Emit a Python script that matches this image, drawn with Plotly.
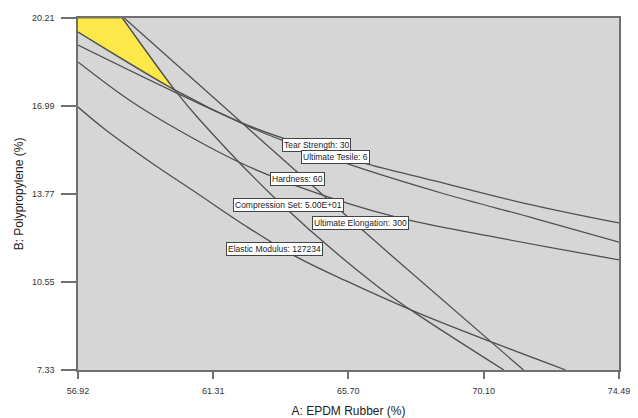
import plotly.graph_objects as go

# Axis ticks
x_ticks = [56.92, 61.31, 65.70, 70.10, 74.49]
y_ticks = [7.33, 10.55, 13.77, 16.99, 20.21]
x_range = [56.92, 74.49]
y_range = [7.33, 20.21]

# Contour lines (A: EPDM Rubber %, B: Polypropylene %)
comp_x = [58.36, 60.06, 60.82, 63.38, 66.59, 67.87, 70.75]
comp_y = [20.21, 17.58, 16.55, 13.55, 10.44, 9.42, 7.33]

elong_x = [58.42, 60.82, 64.03, 67.23, 71.39]
elong_y = [20.21, 17.80, 14.58, 11.39, 7.33]

elastic_x = [56.92, 57.78, 59.22, 60.82, 62.42, 64.03, 65.63, 67.96, 70.43, 72.76]
elastic_y = [16.95, 16.15, 14.98, 13.77, 12.56, 11.46, 10.59, 9.42, 8.32, 7.33]

hard_x = [56.92, 58.58, 60.18, 62.14, 64.03, 67.23, 70.43, 74.49]
hard_y = [18.60, 17.21, 16.11, 14.94, 14.06, 12.93, 12.20, 11.36]

tensile_x = [56.92, 60.06, 62.42, 64.03, 66.27, 68.83, 71.71, 74.49]
tensile_y = [19.70, 17.58, 16.26, 15.53, 14.65, 13.77, 12.89, 12.01]

tear_x = [56.92, 60.06, 62.42, 64.03, 66.20, 68.51, 71.39, 74.49]
tear_y = [19.22, 17.50, 16.29, 15.64, 14.90, 14.25, 13.44, 12.71]

# Feasible (yellow) region vertices
region_x = [56.92, 58.36, 60.06, 56.92]
region_y = [20.21, 20.21, 17.58, 19.70]

# Contour labels
label_text = ["Tear Strength: 30", "Ultimate Tesile: 6", "Hardness: 60",
              "Compression Set: 5.00E+01", "Ultimate Elongation: 300",
              "Elastic Modulus: 127234"]
label_x = [64.65, 65.27, 64.04, 63.75, 66.10, 63.29]
label_y = [15.58, 15.14, 14.32, 13.37, 12.71, 11.74]

fig = go.Figure()

fig.add_trace(go.Scatter(
    x=region_x, y=region_y, mode="lines", fill="toself",
    fillcolor="#FDE84A", line=dict(color="#6a6a3a", width=0.8),
    hoverinfo="skip", showlegend=False))

line_style = dict(color="#505050", width=1.3, shape="spline", smoothing=1.0)
for xs, ys in [(comp_x, comp_y), (elong_x, elong_y), (elastic_x, elastic_y),
               (hard_x, hard_y), (tensile_x, tensile_y), (tear_x, tear_y)]:
    fig.add_trace(go.Scatter(x=xs, y=ys, mode="lines", line=line_style,
                             showlegend=False, hoverinfo="skip"))

for t, lx, ly in zip(label_text, label_x, label_y):
    fig.add_annotation(x=lx, y=ly, text=t, showarrow=False,
                       font=dict(family="Liberation Sans, Arial", size=8.5, color="#222"),
                       bgcolor="white", bordercolor="#444", borderwidth=1, borderpad=1)

fig.update_layout(
    width=630, height=410,
    margin=dict(l=70, r=19, t=10, b=48),
    paper_bgcolor="white", plot_bgcolor="#D6D6D6",
    font=dict(family="Liberation Sans, Arial", color="#222"),
    xaxis=dict(range=x_range, tickvals=x_ticks, ticktext=[f"{v:.2f}" for v in x_ticks],
               ticks="outside", ticklen=7, tickcolor="#707070", tickwidth=1.5,
               showline=True, linecolor="#707070", linewidth=1.5, mirror=True,
               showgrid=False, zeroline=False, automargin=False,
               ticklabelstandoff=4,
               tickfont=dict(size=9, color="#333"),
               title=dict(text="A: EPDM Rubber (%)", font=dict(size=12, color="#222"), standoff=12)),
    yaxis=dict(range=y_range, tickvals=y_ticks, ticktext=[f"{v:.2f}" for v in y_ticks],
               ticks="outside", ticklen=15, tickcolor="#707070", tickwidth=1.5,
               showline=True, linecolor="#707070", linewidth=1.5, mirror=True,
               showgrid=False, zeroline=False, automargin=False,
               ticklabelstandoff=5,
               tickfont=dict(size=9, color="#333"),
               title=dict(text="B: Polypropylene (%)", font=dict(size=12, color="#222"), standoff=6)),
)

fig.write_html("out.html")
